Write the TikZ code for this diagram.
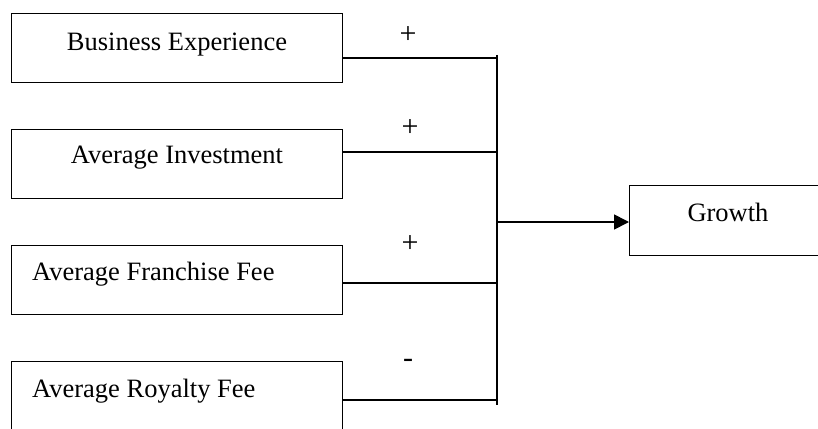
\documentclass[tikz,border=0pt]{standalone}
\usepackage{fontspec}
\setmainfont{Liberation Serif}
\usetikzlibrary{arrows.meta}
\begin{document}
\begin{tikzpicture}[x=1pt,y=-1pt,
  box/.style={draw, line width=1.4pt, minimum width=331pt, minimum height=69pt, inner sep=0pt, anchor=north west},
  lbl/.style={inner sep=0pt, font=\fontsize{26.5}{30}\selectfont},
  sgn/.style={inner sep=0pt, font=\fontsize{30}{34}\selectfont},
  conn/.style={line width=1.7pt},
  every node/.append style={text=black}]
\useasboundingbox (0,0) rectangle (818,428);
\clip (0,0) rectangle (818,428);
% boxes
\node[box] (b1) at (11,13) {};
\node[box] (b2) at (11,129) {};
\node[box] (b3) at (11,245) {};
\node[box] (b4) at (11,361) {};
\node[box, minimum width=200pt, minimum height=70pt] (g) at (629,185) {};
% labels
\node[lbl, anchor=base] (t1) at (177,50) {Business Experience};
\node[lbl, anchor=base] (t2) at (177,163) {Average Investment};
\node[lbl, anchor=base west] (t3) at (32,280) {Average Franchise Fee};
\node[lbl, anchor=base west] (t4) at (32,397) {Average Royalty Fee};
\node[lbl, anchor=base] (tg) at (728,221) {Growth};
% signs
\node[sgn] (s1) at (408,35) {+};
\node[sgn] (s2) at (410,128) {+};
\node[sgn] (s3) at (410,244) {+};
\node[sgn] (s4) at (408,363) {-};
% junction coordinates
\coordinate (top) at (497,55);
\coordinate (bot) at (497,405);
\coordinate (j1) at (497,58);
\coordinate (j2) at (497,152);
\coordinate (j3) at (497,283);
\coordinate (j4) at (497,400);
\coordinate (jg) at (497,222);
\draw[conn] (top) -- (bot);
\draw[conn] (b1.east |- j1) -- (j1);
\draw[conn] (b2.east |- j2) -- (j2);
\draw[conn] (b3.east |- j3) -- (j3);
\draw[conn] (b4.east |- j4) -- (j4);
\draw[conn, -{Triangle[length=15pt,width=15pt]}] (jg) -- (g.west |- jg);
\end{tikzpicture}
\end{document}
